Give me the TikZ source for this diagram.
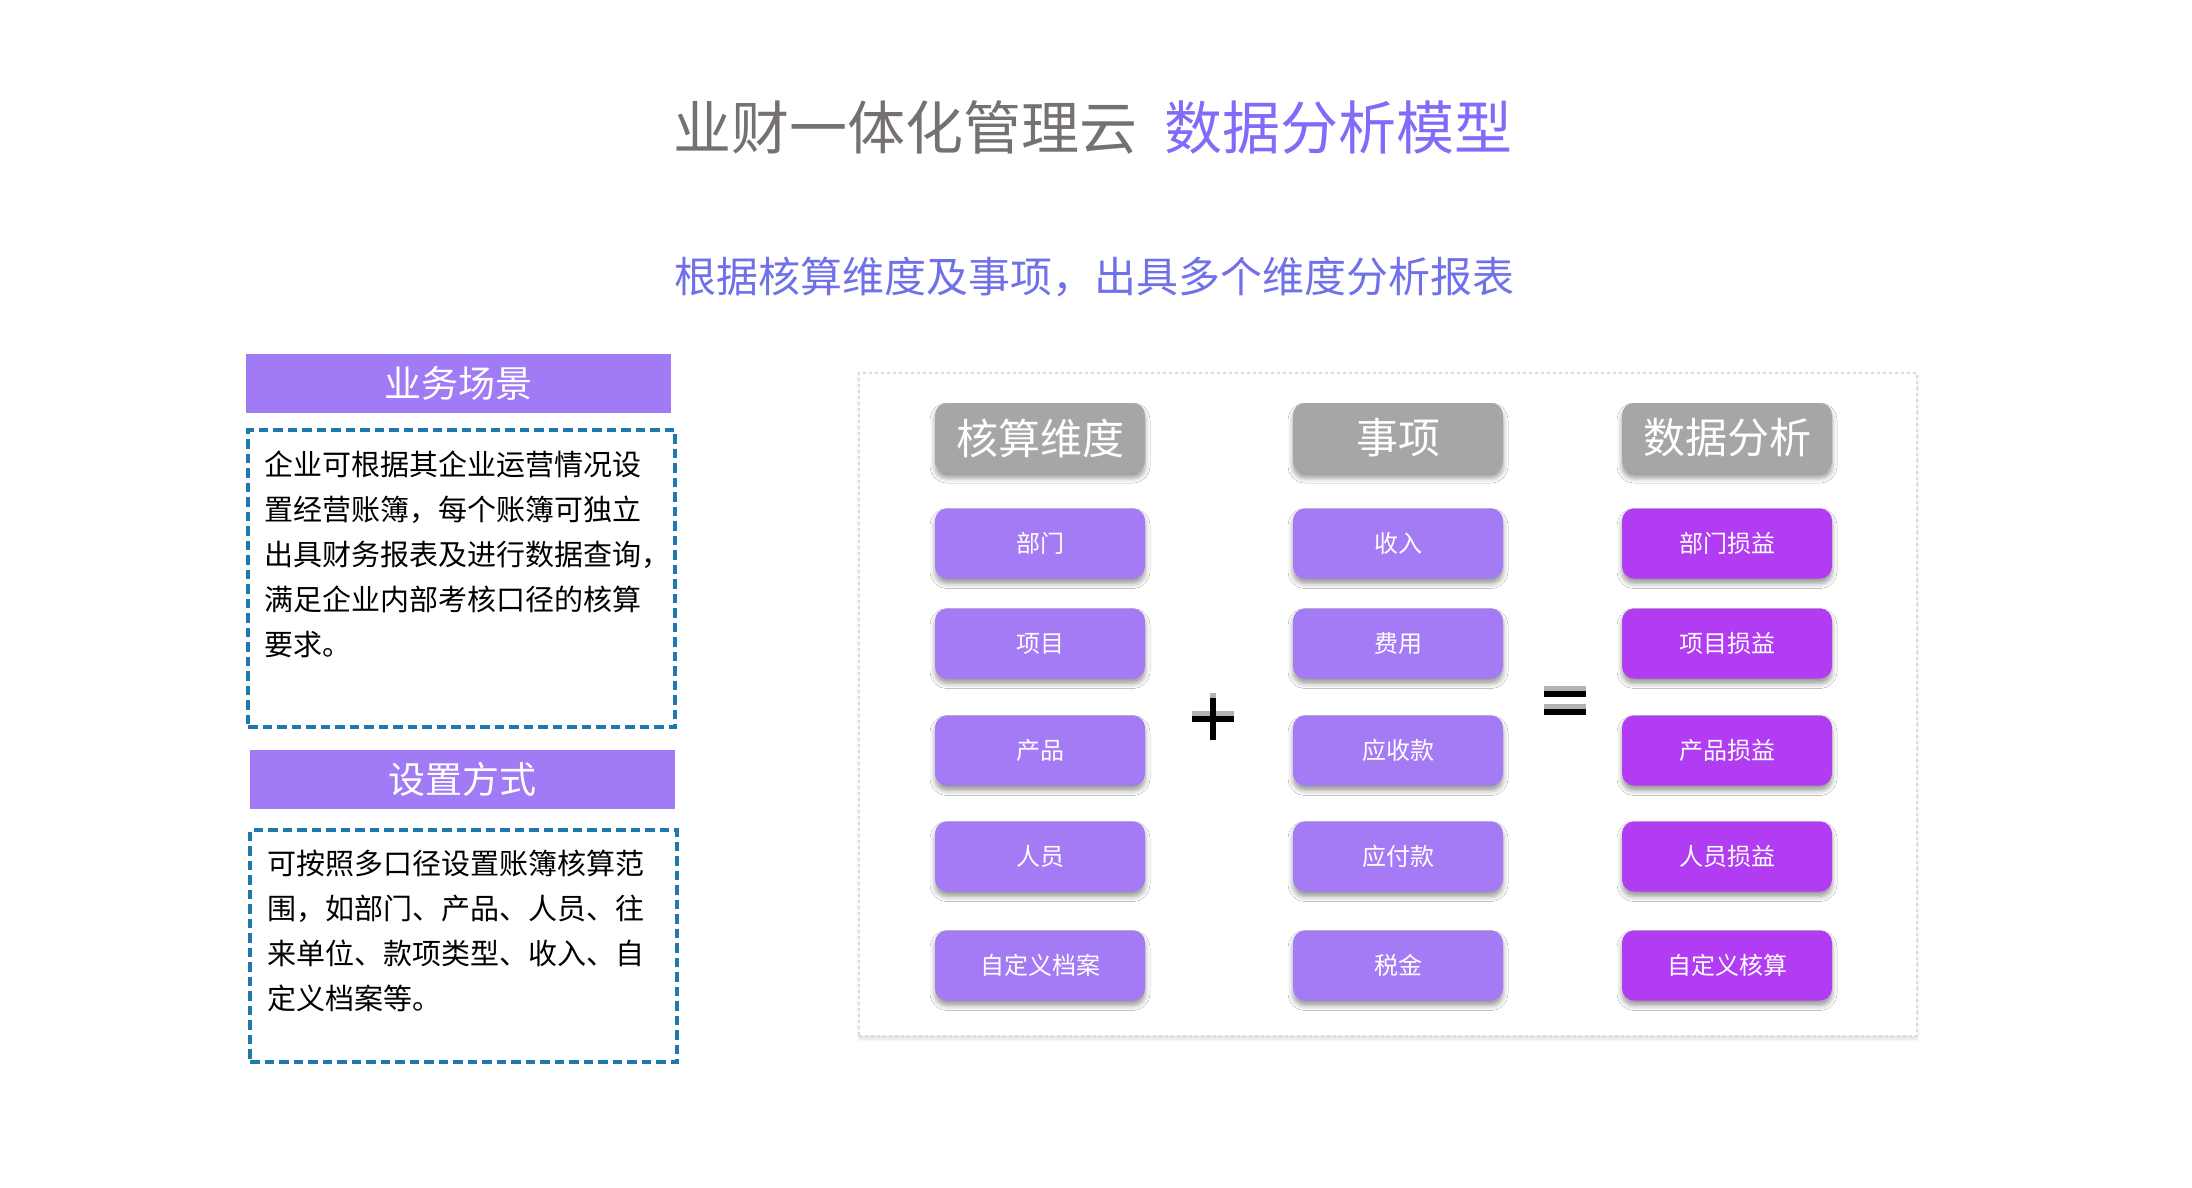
\documentclass[tikz,border=0pt]{standalone}
\usepackage{fontspec}
\setmainfont{Noto Sans CJK SC}
\usepackage{tikz}
\usetikzlibrary{positioning,shadows.blur}

\definecolor{titlegray}{RGB}{118,113,113}
\definecolor{titlepurple}{RGB}{132,106,248}
\definecolor{subblue}{RGB}{112,112,232}
\definecolor{barpurple}{RGB}{161,122,245}
\definecolor{boxpurple}{RGB}{164,122,245}
\definecolor{boxmagenta}{RGB}{177,60,242}
\definecolor{headgray}{RGB}{166,166,166}
\definecolor{dashblue}{RGB}{31,120,176}

\begin{document}
\begin{tikzpicture}[x=1pt,y=-1pt,node distance=105.5pt,inner sep=0pt,
	softshadow/.style={blur shadow={shadow xshift=0pt,shadow yshift=-5pt,shadow blur radius=5pt,shadow opacity=40}},
	hdbox/.style={fill=headgray,rounded corners=12pt,minimum width=210,minimum height=70,text=white,font=\fontsize{42}{50}\selectfont,softshadow},
	itembox/.style={fill=boxpurple,rounded corners=12pt,minimum width=210,minimum height=70,text=white,font=\fontsize{24}{30}\selectfont,softshadow},
	resbox/.style={itembox,fill=boxmagenta},
	bar/.style={fill=barpurple,minimum width=425,minimum height=59,text=white,font=\fontsize{37}{44}\selectfont},
	dashbox/.style={draw=dashblue,line width=3.3pt,dash pattern=on 9.5pt off 5pt,minimum width=427},
	bodytext/.style={anchor=base west,align=left,text width=420,font=\fontsize{29}{45}\selectfont}]
	\useasboundingbox (0,0) rectangle (2192,1187);

	% titles
	\node(title) at (1093,127) {\fontsize{58}{66}\selectfont\color{titlegray}业财一体化管理云\hspace{0.45em}\color{titlepurple}数据分析模型};
	\node(subtitle) at (1094,277) {\fontsize{42}{50}\selectfont\color{subblue}根据核算维度及事项，出具多个维度分析报表};

	% left side
	\node(scene) [bar] at (458.5,383.5) {业务场景};
	\node(scenebox) [dashbox,minimum height=297] at (461.5,578.5) {};
	\node(scenetext) [bodytext] at (264,475) {企业可根据其企业运营情况设\\置经营账簿，每个账簿可独立\\出具财务报表及进行数据查询，\\满足企业内部考核口径的核算\\要求。};
	\node(setup) [bar] at (462,779) {设置方式};
	\node(setupbox) [dashbox,minimum height=232] at (463.5,946) {};
	\node(setuptext) [bodytext] at (267,874) {可按照多口径设置账簿核算范\\围，如部门、产品、人员、往\\来单位、款项类型、收入、自\\定义档案等。};

	% right side
	\node(panel) [fill=white,draw=gray!30,dashed,line width=1.3pt,minimum width=1058,minimum height=663,
		blur shadow={shadow xshift=0pt,shadow yshift=-3pt,shadow blur radius=3pt,shadow opacity=12}] at (1388,704.5) {};

	\node(dim) [hdbox] at (1040,438) {核算维度};
	\node(dim1) [itembox,below of=dim] {部门};
	\node(dim2) [itembox,below of=dim1,node distance=100pt] {项目};
	\node(dim3) [itembox,below of=dim2,node distance=107pt] {产品};
	\node(dim4) [itembox,below of=dim3,node distance=106pt] {人员};
	\node(dim5) [itembox,below of=dim4,node distance=109pt] {自定义档案};

	\node(evt) [hdbox] at (1398,438) {事项};
	\node(evt1) [itembox,below of=evt] {收入};
	\node(evt2) [itembox,below of=evt1,node distance=100pt] {费用};
	\node(evt3) [itembox,below of=evt2,node distance=107pt] {应收款};
	\node(evt4) [itembox,below of=evt3,node distance=106pt] {应付款};
	\node(evt5) [itembox,below of=evt4,node distance=109pt] {税金};

	\node(ana) [hdbox] at (1727,438) {数据分析};
	\node(ana1) [resbox,below of=ana] {部门损益};
	\node(ana2) [resbox,below of=ana1,node distance=100pt] {项目损益};
	\node(ana3) [resbox,below of=ana2,node distance=107pt] {产品损益};
	\node(ana4) [resbox,below of=ana3,node distance=106pt] {人员损益};
	\node(ana5) [resbox,below of=ana4,node distance=109pt] {自定义核算};

	% plus and equals
	\coordinate(plus) at (1213,719);
	\coordinate(eq) at (1565,703);
	\draw[black!30,line width=6.5pt] ([xshift=-21,yshift=5]plus) -- ([xshift=21,yshift=5]plus) ([yshift=-16]plus) -- ([yshift=26]plus);
	\draw[line width=6.5pt] ([xshift=-21]plus) -- ([xshift=21]plus) ([yshift=-21]plus) -- ([yshift=21]plus);
	\draw[black!30,line width=6pt] ([xshift=-21,yshift=-4]eq) -- ([xshift=21,yshift=-4]eq) ([xshift=-21,yshift=14]eq) -- ([xshift=21,yshift=14]eq);
	\draw[line width=6pt] ([xshift=-21,yshift=-9]eq) -- ([xshift=21,yshift=-9]eq) ([xshift=-21,yshift=9]eq) -- ([xshift=21,yshift=9]eq);
\end{tikzpicture}
\end{document}
